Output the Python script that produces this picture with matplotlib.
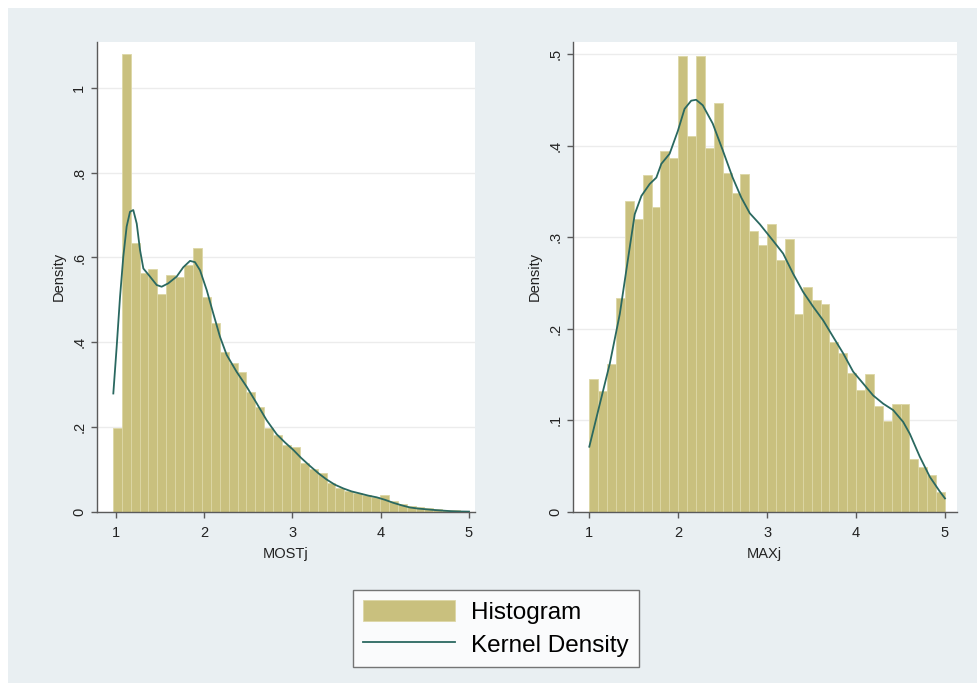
import matplotlib
matplotlib.use("Agg")
import matplotlib.pyplot as plt
from matplotlib.patches import Rectangle, Patch
from matplotlib.lines import Line2D

plt.rcParams['font.family'] = ['Liberation Sans', 'DejaVu Sans']

# ---------------- data ----------------
most_bin_start = 0.97
most_bin_width = 0.10075
most_density = [0.197, 1.080, 0.635, 0.563, 0.574, 0.515, 0.559, 0.555, 0.582, 0.623,
                0.507, 0.445, 0.378, 0.350, 0.330, 0.283, 0.248, 0.197, 0.180, 0.157,
                0.153, 0.114, 0.100, 0.092, 0.067, 0.057, 0.050, 0.043, 0.0385, 0.034,
                0.040, 0.025, 0.018, 0.013, 0.010, 0.008, 0.006, 0.004, 0.003, 0.0015]
most_kde_x = [0.975, 1.013, 1.051, 1.088, 1.126, 1.164, 1.201, 1.24, 1.277, 1.315, 1.39,
              1.466, 1.522, 1.597, 1.692, 1.767, 1.843, 1.899, 1.956, 2.032, 2.106, 2.182,
              2.258, 2.371, 2.484, 2.597, 2.71, 2.823, 2.92, 3.011, 3.1, 3.2, 3.3, 3.389,
              3.48, 3.577, 3.67, 3.766, 3.86, 3.955, 4.05, 4.143, 4.24, 4.331, 4.42, 4.52,
              4.61, 4.708, 4.8, 4.897, 5.0]
most_kde_y = [0.279, 0.389, 0.507, 0.602, 0.673, 0.708, 0.712, 0.68, 0.618, 0.574, 0.555,
              0.535, 0.531, 0.539, 0.555, 0.577, 0.592, 0.589, 0.570, 0.523, 0.468, 0.413,
              0.370, 0.330, 0.295, 0.256, 0.216, 0.183, 0.163, 0.146, 0.127, 0.108, 0.090,
              0.076, 0.064, 0.055, 0.048, 0.043, 0.038, 0.034, 0.028, 0.021, 0.015, 0.010,
              0.0075, 0.0056, 0.004, 0.0025, 0.0012, 0.0005, 0.0002]

max_bin_start = 1.0
max_bin_width = 0.1
max_density = [0.1455, 0.132, 0.161, 0.233, 0.339, 0.320, 0.368, 0.333, 0.394, 0.386,
               0.498, 0.410, 0.498, 0.397, 0.446, 0.370, 0.348, 0.369, 0.3065, 0.2916,
               0.3145, 0.275, 0.298, 0.2156, 0.246, 0.2316, 0.2265, 0.1855, 0.1735, 0.151,
               0.1327, 0.150, 0.115, 0.099, 0.1175, 0.118, 0.058, 0.049, 0.040, 0.021]
max_kde_x = [1.0, 1.119, 1.231, 1.343, 1.455, 1.511, 1.586, 1.679, 1.754, 1.81, 1.903,
             1.996, 2.071, 2.146, 2.201, 2.276, 2.388, 2.5, 2.612, 2.71, 2.805, 2.918,
             3.067, 3.18, 3.292, 3.405, 3.517, 3.63, 3.742, 3.855, 3.967, 4.08, 4.192,
             4.305, 4.417, 4.53, 4.605, 4.717, 4.83, 4.942, 5.0]
max_kde_y = [0.071, 0.118, 0.162, 0.216, 0.289, 0.325, 0.345, 0.358, 0.365, 0.380, 0.391,
             0.416, 0.44, 0.449, 0.450, 0.444, 0.424, 0.395, 0.365, 0.343, 0.326, 0.314,
             0.296, 0.282, 0.26, 0.24, 0.224, 0.209, 0.191, 0.173, 0.153, 0.14, 0.127,
             0.118, 0.111, 0.098, 0.085, 0.060, 0.038, 0.022, 0.0145]

x_ticks = [1, 2, 3, 4, 5]
most_yticks = [0, 0.2, 0.4, 0.6, 0.8, 1.0]
most_yticklabels = ['0', '.2', '.4', '.6', '.8', '1']
max_yticks = [0, 0.1, 0.2, 0.3, 0.4, 0.5]
max_yticklabels = ['0', '.1', '.2', '.3', '.4', '.5']
labels = ['Histogram', 'Kernel Density']
xtitles = ['MOSTj', 'MAXj']

# ---------------- style ----------------
BG = '#e9eff2'
BAR = '#c9c07e'
BAR_EDGE = '#ddd7a6'
KDE = '#2a6860'
AXC = '#5a5a5a'
GRID = '#ececec'

W, H = 977, 683
fig = plt.figure(figsize=(W / 100, H / 100), dpi=100, facecolor='white')
fig.add_artist(Rectangle((8 / W, 0), 1 - 8 / W, 1 - 8 / H, transform=fig.transFigure,
                         facecolor=BG, edgecolor='none', zorder=-10))


def px_axes(x0, x1, ytop, ybot):
    return fig.add_axes([x0 / W, (H - ybot) / H, (x1 - x0) / W, (ybot - ytop) / H])


ax1 = px_axes(96.7, 475, 42, 511.7)
ax2 = px_axes(572.7, 956.7, 42, 511.7)

panels = [
    (ax1, most_bin_start, most_bin_width, most_density, most_kde_x, most_kde_y,
     most_yticks, most_yticklabels, (0.787, 5.068), (0, 1.1086), xtitles[0]),
    (ax2, max_bin_start, max_bin_width, max_density, max_kde_x, max_kde_y,
     max_yticks, max_yticklabels, (0.8133, 5.1316), (0, 0.5131), xtitles[1]),
]

for ax, b0, bw, dens, kx, ky, yt, ytl, xl, yl, xt in panels:
    ax.set_facecolor('white')
    edges = [b0 + i * bw for i in range(len(dens))]
    ax.bar(edges, dens, width=bw, align='edge', color=BAR, edgecolor=BAR_EDGE,
           linewidth=0.6, zorder=2)
    ax.plot(kx, ky, color=KDE, linewidth=1.3, zorder=3)
    ax.set_xlim(*xl)
    ax.set_ylim(*yl)
    ax.set_xticks(x_ticks)
    ax.set_xticklabels([str(t) for t in x_ticks])
    ax.set_yticks(yt)
    ax.set_yticklabels(ytl)
    ax.yaxis.grid(True, color=GRID, linewidth=1.0, zorder=0)
    ax.set_axisbelow(True)
    for s in ['top', 'right']:
        ax.spines[s].set_visible(False)
    for s in ['left', 'bottom']:
        ax.spines[s].set_color(AXC)
        ax.spines[s].set_linewidth(1.0)
    ax.tick_params(axis='both', direction='out', length=4.5, width=1.0, color=AXC,
                   labelsize=10.5, labelcolor='#222222')
    ax.tick_params(axis='x', pad=6)
    ax.tick_params(axis='y', pad=3, labelrotation=90)
    for lab in ax.get_yticklabels():
        lab.set_va('center')
    ax.set_xlabel(xt, fontsize=10.5, color='#222222', labelpad=5)
    ax.set_ylabel('Density', fontsize=10.5, color='#222222', labelpad=5)

# legend
handles = [Patch(facecolor=BAR, edgecolor=BAR_EDGE, linewidth=0.6),
           Line2D([], [], color=KDE, linewidth=1.3)]
leg = fig.legend(handles, labels, loc='upper left',
                 bbox_to_anchor=(352.7 / W, (H - 590) / H),
                 fontsize=17.5, frameon=True, fancybox=False, borderpad=0.42,
                 handlelength=3.8, handleheight=0.95, handletextpad=0.65,
                 labelspacing=0.36, borderaxespad=0)
frame = leg.get_frame()
frame.set_edgecolor('#555555')
frame.set_linewidth(1.0)
frame.set_facecolor('white')

fig.savefig('out.png', dpi=100, facecolor=fig.get_facecolor())
